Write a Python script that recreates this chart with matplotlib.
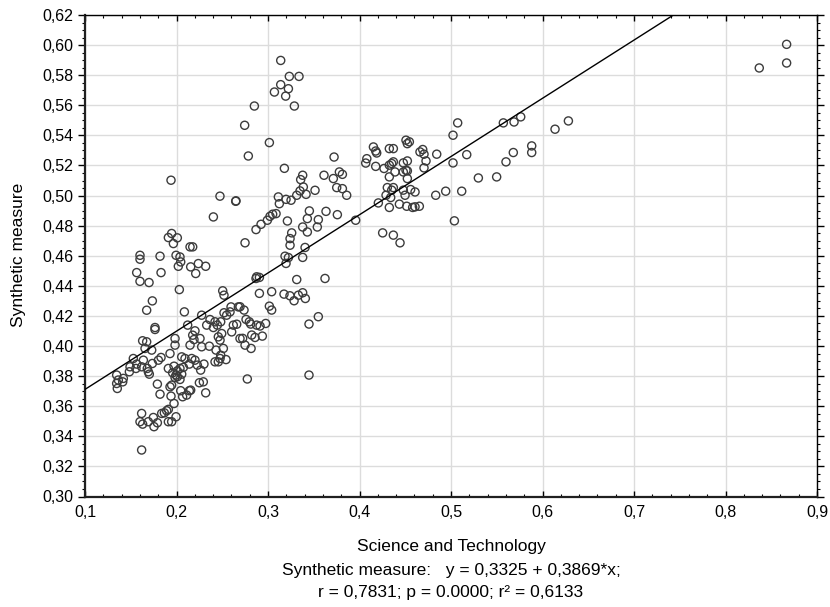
import matplotlib
matplotlib.use("Agg")
import matplotlib.pyplot as plt
from matplotlib.ticker import MultipleLocator, FuncFormatter
import numpy as np

plt.rcParams['font.family'] = ['Liberation Sans Narrow', 'Liberation Sans', 'DejaVu Sans']

# Science and Technology (x) vs Synthetic measure (y)
science_tech = [
    0.2148, 0.2177, 0.1601, 0.1601, 0.1820, 0.1995, 0.2038, 0.2046, 0.2020, 0.2155,
    0.2239, 0.2319, 0.2210, 0.1565, 0.1831, 0.1601, 0.1700, 0.2031, 0.2505, 0.2519,
    0.1736, 0.1674, 0.2086, 0.2275, 0.2122, 0.2366, 0.2421, 0.2330, 0.2403, 0.2446,
    0.2483, 0.2548, 0.2519, 0.2585, 0.2596, 0.2676, 0.1765, 0.1765, 0.2202, 0.2177,
    0.2257, 0.2191, 0.2148, 0.2275, 0.1984, 0.1984, 0.1630, 0.1674, 0.1656, 0.1729,
    0.2457, 0.2476, 0.2621, 0.2658, 0.2603, 0.2494, 0.2694, 0.2359, 0.2432, 0.2512,
    0.2483, 0.2541, 0.2457, 0.2421, 0.2476, 0.1929, 0.1831, 0.1802, 0.1528, 0.1565,
    0.1492, 0.1557, 0.1638, 0.1619, 0.1681, 0.1692, 0.1703, 0.1736, 0.2057, 0.2093,
    0.2166, 0.2202, 0.2228, 0.2300, 0.2264, 0.2140, 0.2075, 0.2038, 0.2009, 0.1973,
    0.1911, 0.1958, 0.1346, 0.1364, 0.1419, 0.1353, 0.1346, 0.1412, 0.1485, 0.1995,
    0.2009, 0.2057, 0.1984, 0.2038, 0.2046, 0.2111, 0.2140, 0.2067, 0.2155, 0.1947,
    0.1929, 0.1973, 0.1940, 0.1791, 0.1820, 0.2250, 0.2293, 0.2319, 0.1619, 0.1601,
    0.1630, 0.1692, 0.1747, 0.1754, 0.1791, 0.1838, 0.1867, 0.1893, 0.1911, 0.1911,
    0.1947, 0.1995, 0.1619,
    0.1940, 0.2475, 0.2650, 0.2403, 0.1947, 0.1911, 0.2009, 0.1966,
    0.3139, 0.3233, 0.3339, 0.3139, 0.3223, 0.3070, 0.3193, 0.3288, 0.2851, 0.2745,
    0.3015, 0.2785, 0.3179, 0.2647, 0.3379, 0.3357, 0.3386, 0.3350, 0.3416, 0.3314,
    0.3252, 0.3197, 0.3113, 0.3124, 0.3088, 0.3051, 0.3022, 0.2993, 0.2924, 0.2869,
    0.3212, 0.3514, 0.3612, 0.3722, 0.3714, 0.3780, 0.3813, 0.3751, 0.3813, 0.3860,
    0.3452, 0.3430, 0.3634, 0.3758, 0.3550, 0.3539, 0.3379, 0.3430, 0.3259, 0.3241,
    0.3958, 0.4152, 0.4177, 0.4188, 0.4080, 0.4068, 0.4177, 0.4206,
    0.2749, 0.3241, 0.3405, 0.3379, 0.3186, 0.3223, 0.3197, 0.2876, 0.2869, 0.2906,
    0.3314, 0.3623, 0.2906, 0.3040, 0.3175, 0.3240, 0.3285, 0.3332, 0.3379, 0.3408,
    0.2694, 0.2738, 0.3015, 0.3040, 0.2760, 0.2796, 0.2811, 0.2876, 0.2913, 0.2975,
    0.2723, 0.2749, 0.2815, 0.2822, 0.2858, 0.2938, 0.3448, 0.3550, 0.2774, 0.3448,
    0.4326, 0.4370, 0.4508, 0.4545, 0.4523, 0.4352, 0.4326, 0.4370, 0.4268, 0.4479,
    0.4523, 0.4508, 0.4479, 0.4523, 0.4388, 0.4326, 0.4523, 0.4304, 0.4370, 0.4352,
    0.4479, 0.4559, 0.4607, 0.4290, 0.4341, 0.4498, 0.4326, 0.4436, 0.4516, 0.4581,
    0.4607, 0.4654, 0.4661, 0.4691, 0.4705, 0.4727, 0.4705, 0.4844, 0.4833, 0.4942,
    0.5117, 0.5022, 0.5073, 0.5022, 0.5172, 0.5037, 0.5299, 0.5499, 0.5601, 0.5681,
    0.5882, 0.5882, 0.5572, 0.5689, 0.5762, 0.6137, 0.6283, 0.4253, 0.4370, 0.4443,
    0.8369, 0.8668, 0.8668,
]

synthetic = [
    0.4659, 0.4659, 0.4603, 0.4577, 0.4597, 0.4603, 0.4592, 0.4559, 0.4530, 0.4526,
    0.4548, 0.4530, 0.4482, 0.4488, 0.4488, 0.4430, 0.4422, 0.4375, 0.4367, 0.4338,
    0.4300, 0.4238, 0.4227, 0.4205, 0.4139, 0.4176, 0.4161, 0.4139, 0.4123, 0.4139,
    0.4161, 0.4205, 0.4221, 0.4227, 0.4260, 0.4260, 0.4123, 0.4110, 0.4101, 0.4072,
    0.4050, 0.4043, 0.4006, 0.3995, 0.4050, 0.4006, 0.4035, 0.4028, 0.3984, 0.3973,
    0.4061, 0.4039, 0.4139, 0.4145, 0.4094, 0.4083, 0.4050, 0.3999, 0.3973, 0.3984,
    0.3939, 0.3910, 0.3895, 0.3895, 0.3917, 0.3950, 0.3924, 0.3906, 0.3917, 0.3880,
    0.3862, 0.3851, 0.3906, 0.3862, 0.3851, 0.3829, 0.3813, 0.3884, 0.3928, 0.3917,
    0.3917, 0.3906, 0.3873, 0.3880, 0.3840, 0.3880, 0.3858, 0.3851, 0.3835, 0.3866,
    0.3851, 0.3822, 0.3807, 0.3774, 0.3785, 0.3718, 0.3751, 0.3762, 0.3829, 0.3807,
    0.3796, 0.3813, 0.3791, 0.3778, 0.3703, 0.3674, 0.3703, 0.3663, 0.3707, 0.3740,
    0.3729, 0.3618, 0.3667, 0.3747, 0.3680, 0.3756, 0.3762, 0.3689, 0.3552, 0.3497,
    0.3481, 0.3497, 0.3525, 0.3464, 0.3490, 0.3552, 0.3556, 0.3570, 0.3579, 0.3497,
    0.3497, 0.3530, 0.3309,
    0.5102, 0.4996, 0.4965, 0.4858, 0.4748, 0.4721, 0.4719, 0.4681,
    0.5898, 0.5792, 0.5792, 0.5737, 0.5710, 0.5688, 0.5661, 0.5595, 0.5595, 0.5467,
    0.5352, 0.5263, 0.5181, 0.4962, 0.5135, 0.5106, 0.5057, 0.5031, 0.5008, 0.5002,
    0.4969, 0.4975, 0.4991, 0.4946, 0.4880, 0.4876, 0.4862, 0.4836, 0.4809, 0.4774,
    0.4831, 0.5035, 0.5135, 0.5256, 0.5113, 0.5157, 0.5141, 0.5053, 0.5046, 0.5002,
    0.4898, 0.4847, 0.4895, 0.4873, 0.4840, 0.4791, 0.4791, 0.4758, 0.4752, 0.4714,
    0.4836, 0.5323, 0.5296, 0.5283, 0.5245, 0.5216, 0.5194, 0.4951,
    0.4686, 0.4670, 0.4655, 0.4589, 0.4597, 0.4588, 0.4549, 0.4460, 0.4449, 0.4456,
    0.4442, 0.4449, 0.4350, 0.4361, 0.4345, 0.4334, 0.4301, 0.4338, 0.4354, 0.4316,
    0.4261, 0.4239, 0.4265, 0.4239, 0.4177, 0.4161, 0.4146, 0.4139, 0.4133, 0.4150,
    0.4051, 0.4006, 0.3984, 0.4073, 0.4057, 0.4066, 0.4146, 0.4195, 0.3781, 0.3807,
    0.5312, 0.5312, 0.5368, 0.5357, 0.5345, 0.5213, 0.5202, 0.5224, 0.5180, 0.5217,
    0.5230, 0.5168, 0.5157, 0.5164, 0.5157, 0.5124, 0.5113, 0.5053, 0.5053, 0.5036,
    0.5036, 0.5040, 0.5024, 0.5002, 0.4987, 0.5002, 0.4921, 0.4943, 0.4929, 0.4921,
    0.4925, 0.4929, 0.5290, 0.5306, 0.5275, 0.5230, 0.5184, 0.5275, 0.5002, 0.5029,
    0.5029, 0.5401, 0.5483, 0.5217, 0.5272, 0.4832, 0.5117, 0.5124, 0.5224, 0.5286,
    0.5330, 0.5286, 0.5483, 0.5489, 0.5523, 0.5441, 0.5496, 0.4752, 0.4737, 0.4686,
    0.5848, 0.6005, 0.5881,
]

intercept = 0.3325
slope = 0.3869
x_ticks = [0.1, 0.2, 0.3, 0.4, 0.5, 0.6, 0.7, 0.8, 0.9]
y_ticks = [0.30, 0.32, 0.34, 0.36, 0.38, 0.40, 0.42, 0.44, 0.46, 0.48, 0.50,
           0.52, 0.54, 0.56, 0.58, 0.60, 0.62]

x_label = "Science and Technology"
y_label = "Synthetic measure"
caption1 = "Synthetic measure:   y = 0,3325 + 0,3869*x;"
caption2 = "r = 0,7831; p = 0.0000; r\u00b2 = 0,6133"

fig = plt.figure(figsize=(8.30, 6.07), dpi=100)
ax = fig.add_axes([85/830, 1 - 496.5/607, (817-85)/830, (496.5-15)/607])

ax.set_xlim(0.1, 0.9)
ax.set_ylim(0.30, 0.62)
ax.set_xticks(x_ticks)
ax.set_yticks(y_ticks)
ax.xaxis.set_minor_locator(MultipleLocator(0.02))
ax.yaxis.set_minor_locator(MultipleLocator(0.005))
ax.xaxis.set_major_formatter(FuncFormatter(lambda v, p: f"{v:.1f}".replace('.', ',')))
ax.yaxis.set_major_formatter(FuncFormatter(lambda v, p: f"{v:.2f}".replace('.', ',')))

ax.grid(True, which='major', color='#dcdcdc', linewidth=1.0)
ax.set_axisbelow(True)

ax.scatter(science_tech, synthetic, s=34, facecolors='none', edgecolors='#3c3c3c',
           linewidths=1.0, zorder=3)

xl = np.array([0.1, 0.9])
ax.plot(xl, intercept + slope * xl, color='black', linewidth=1.0, zorder=4)

for sp in ['left', 'bottom']:
    ax.spines[sp].set_linewidth(1.6)
    ax.spines[sp].set_color('#202020')
for sp in ['top', 'right']:
    ax.spines[sp].set_linewidth(1.0)
    ax.spines[sp].set_color('black')

ax.tick_params(axis='y', which='major', direction='out', length=5, width=1, labelsize=11.5, left=True, right=True)
ax.tick_params(axis='y', which='minor', direction='out', length=2.5, width=0.8, left=True, right=True)
ax.tick_params(axis='x', which='major', direction='in', length=4, width=1, labelsize=11.5, top=True, pad=6)
ax.tick_params(axis='x', which='minor', direction='in', length=2, width=0.8, top=True)

fig.text(18/830, 1 - 255/607, y_label, rotation=90, ha='center', va='center', fontsize=12.5)
fig.text(451/830, 1 - 546/607, x_label, ha='center', va='center', fontsize=12.5)
fig.text(451/830, 1 - 571/607, caption1, ha='center', va='center', fontsize=12.5)
fig.text(451/830, 1 - 593/607, caption2, ha='center', va='center', fontsize=12.5)

fig.savefig("out.png", dpi=100)
